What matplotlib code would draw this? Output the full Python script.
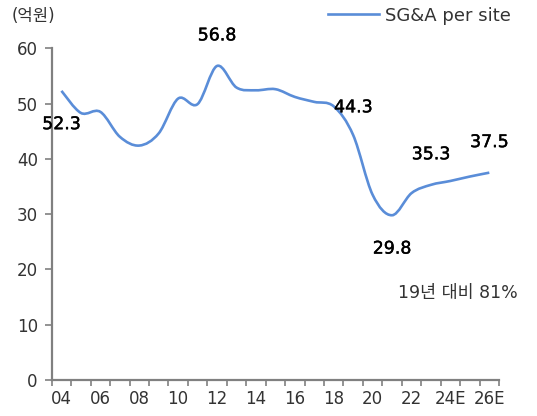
import numpy as np
import matplotlib
matplotlib.use('Agg')
import matplotlib.pyplot as plt
import matplotlib.patheffects as pe
from matplotlib.path import Path
from matplotlib.patches import PathPatch
from matplotlib.lines import Line2D

plt.rcParams['font.family'] = ['DejaVu Sans', 'Noto Sans CJK KR']

years = ['04', '05', '06', '07', '08', '09', '10', '11', '12', '13', '14', '15',
         '16', '17', '18', '19', '20', '21', '22', '23', '24E', '25E', '26E']
sga = [52.3, 48.3, 48.5, 44.0, 42.4, 44.6, 50.9, 49.9, 56.8, 52.9, 52.4, 52.6,
       51.2, 50.3, 49.5, 44.3, 33.5, 29.8, 33.8, 35.3, 36.0, 36.8, 37.5]
# (index, offset in points) for the value labels
labels = [(0, -24), (8, 22), (15, 20), (17, -24), (19, 22), (22, 22)]

line_color = '#5A8DD8'
gray = '#808080'
txt = '#333333'


def smooth_path(x, y):
    # Excel-like smoothed line: cubic bezier through every point
    pts = np.column_stack([x, y]).astype(float)
    ext = np.vstack([pts[0], pts, pts[-1]])
    verts = [pts[0]]
    codes = [Path.MOVETO]
    for i in range(1, len(ext) - 2):
        p0, p1, p2, p3 = ext[i - 1], ext[i], ext[i + 1], ext[i + 2]
        c1 = p1 + (p2 - p0) / 6.0
        c2 = p2 - (p3 - p1) / 6.0
        verts += [c1, c2, p2]
        codes += [Path.CURVE4] * 3
    return Path(verts, codes)


fig = plt.figure(figsize=(5.37, 4.16), dpi=100)
ax = fig.add_axes([0.0963, 0.0865, 0.8330, 0.7975])

x = np.arange(len(years))
patch = PathPatch(smooth_path(x, sga), facecolor='none', edgecolor=line_color,
                  lw=1.9, capstyle='butt')
ax.add_patch(patch)

ax.set_xlim(-0.5, len(years) - 0.5)
ax.set_ylim(0, 60)

ax.set_xticks(x[::2])
ax.set_xticklabels(years[::2])
ax.set_xticks(np.arange(-0.5, len(years), 1.0), minor=True)
ax.tick_params(axis='x', which='major', length=0, pad=7, labelsize=12, colors=txt)
ax.tick_params(axis='x', which='minor', length=4, width=1.2, color=gray, direction='out')
ax.set_yticks(range(0, 61, 10))
ax.tick_params(axis='y', length=5, width=1.2, color=gray, direction='out',
               labelsize=12, labelcolor=txt, pad=5)

for s in ['top', 'right']:
    ax.spines[s].set_visible(False)
for s in ['left', 'bottom']:
    ax.spines[s].set_color(gray)
    ax.spines[s].set_linewidth(1.6)

for i, off in labels:
    ax.annotate(f'{sga[i]:.1f}', (x[i], sga[i]), xytext=(0, off),
                textcoords='offset points', ha='center', va='center',
                fontsize=12.5, color='black',
                path_effects=[pe.withStroke(linewidth=0.3, foreground='black')])

ax.text(17.3, 15.7, '19년 대비 81%', fontsize=12.5, color=txt,
        ha='left', va='center')

fig.text(0.022, 0.962, '(억원)', fontsize=12, color=txt, ha='left', va='center')

handle = Line2D([], [], color=line_color, lw=1.9)
fig.legend([handle], ['SG&A per site'], loc='center right',
           bbox_to_anchor=(0.952, 0.962), frameon=False, fontsize=13,
           handlelength=2.8, handletextpad=0.35, labelcolor=txt,
           borderaxespad=0, borderpad=0)

fig.savefig('out.png', dpi=100)
